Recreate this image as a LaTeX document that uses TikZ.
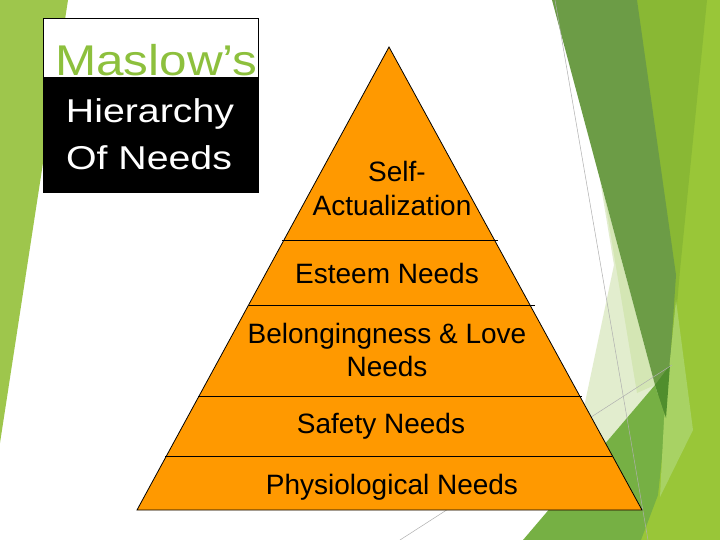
\documentclass[tikz,border=0pt]{standalone}
\usepackage{fontspec}
\setmainfont{Liberation Sans}
\definecolor{stripe}{RGB}{158,198,76}
\definecolor{titlegreen}{RGB}{141,192,61}
\definecolor{darkband}{RGB}{108,156,70}
\definecolor{midyg}{RGB}{137,184,52}
\definecolor{lightg}{RGB}{153,198,56}
\definecolor{pale}{RGB}{226,237,206}
\definecolor{paletwo}{RGB}{212,230,180}
\definecolor{medg}{RGB}{118,176,68}
\definecolor{darkest}{RGB}{80,142,45}
\definecolor{lightstrip}{RGB}{168,210,100}
\definecolor{pyrorange}{RGB}{255,153,0}
\definecolor{thingray}{RGB}{175,175,175}
\tikzset{
  thinline/.style={draw=thingray, line width=0.5pt},
  bandline/.style={draw=black, line width=0.8pt},
  lvl/.style={anchor=base, inner sep=0pt, font=\fontsize{28}{33}\selectfont, text=black},
  ttl/.style={anchor=base, inner sep=0pt}
}
\begin{document}
\begin{tikzpicture}[x=1pt,y=-1pt]
\useasboundingbox (0,0) rectangle (720,540);
\fill[white] (0,0) rectangle (720,540);
% left stripe
\fill[stripe] (0,0) -- (68,0) -- (0,443) -- cycle;
% right decorations
\fill[lightg] (637,0) -- (720,0) -- (720,540) -- (615,540) -- (660,430) -- cycle;
\fill[midyg] (637,0) -- (707,0) -- (680,270) -- (667,420) -- cycle;
\fill[pale] (600,180) -- (655,385) -- (567,488) -- (614,265) -- cycle;
\fill[paletwo] (604,195) -- (655,385) -- (637,393) -- cycle;
\fill[darkband] (552,0) -- (637,0) -- (676,275) -- (670,365) -- (666,420) -- (655,385) -- cycle;
\fill[medg] (523,540) -- (655,385) -- (666,420) -- (658,495) -- (641,540) -- cycle;
\fill[lightstrip] (676,300) -- (693,430) -- (660,497) -- (664,420) -- cycle;
\fill[darkest] (655,385) -- (670,365) -- (666,418) -- cycle;
\draw[thinline] (555,0) -- (648,540);
\draw[thinline] (400,540) -- (672,365);
% title box
\draw[fill=white, line width=0.5pt] (43,18) rectangle (258,192);
\fill[black] (43,77) rectangle (258,192);
\node[ttl, text=titlegreen, font=\fontsize{43}{50}\selectfont] (maslow) at (156.5,76) {\scalebox{1.15}[1]{Maslow’s}};
\node[ttl, text=white, font=\fontsize{33}{40}\selectfont] (hier) at (150,123) {\scalebox{1.19}[1]{Hierarchy}};
\node[ttl, text=white, font=\fontsize{33}{40}\selectfont] (ofneeds) at (149,170) {\scalebox{1.19}[1]{Of Needs}};
% pyramid
\filldraw[fill=pyrorange, draw=black, line width=0.8pt] (389,47) -- (642,510) -- (137,510) -- cycle;
\draw[bandline] (282,240) -- (498,240);
\draw[bandline] (249,305) -- (535,305);
\draw[bandline] (198,396) -- (582,396);
\draw[bandline] (165,456) -- (612,456);
\node[lvl] (self) at (397,182) {Self-};
\node[lvl] (actual) at (392,215) {Actualization};
\node[lvl] (esteem) at (387,283) {Esteem Needs};
\node[lvl] (belong) at (387,343) {Belongingness \& Love};
\node[lvl] (belong2) at (387,376) {Needs};
\node[lvl] (safety) at (381,433) {Safety Needs};
\node[lvl] (phys) at (392,494) {Physiological Needs};
\end{tikzpicture}
\end{document}
